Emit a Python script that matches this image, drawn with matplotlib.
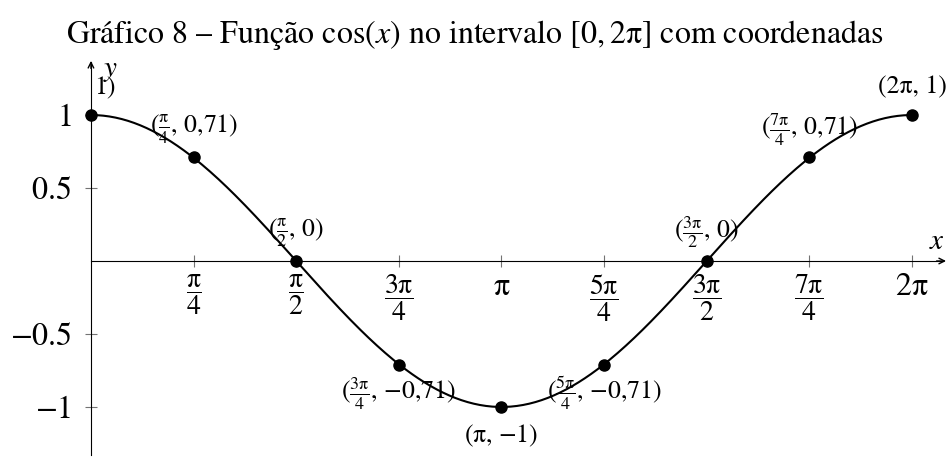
import numpy as np
import matplotlib.pyplot as plt

plt.rcParams['font.family'] = 'STIXGeneral'
plt.rcParams['mathtext.fontset'] = 'stix'

# pontos destacados de cos(x)
px = [0, np.pi / 4, np.pi / 2, 3 * np.pi / 4, np.pi, 5 * np.pi / 4, 3 * np.pi / 2, 7 * np.pi / 4, 2 * np.pi]
py = [1, 0.71, 0, -0.71, -1, -0.71, 0, 0.71, 1]
P = r'\mathrm{\pi}'
rotulos = ['1)', rf'($\frac{{{P}}}{{4}}$, 0,71)', rf'($\frac{{{P}}}{{2}}$, 0)',
           rf'($\frac{{3{P}}}{{4}}$, $-$0,71)', r'(π, $-$1)', rf'($\frac{{5{P}}}{{4}}$, $-$0,71)',
           rf'($\frac{{3{P}}}{{2}}$, 0)', rf'($\frac{{7{P}}}{{4}}$, 0,71)', r'(2π, 1)']

xticks = [np.pi / 4 * k for k in range(1, 9)]
xticklabels = [rf'$\dfrac{{{P}}}{{4}}$', rf'$\dfrac{{{P}}}{{2}}$', rf'$\dfrac{{3{P}}}{{4}}$', rf'${P}$',
               rf'$\dfrac{{5{P}}}{{4}}$', rf'$\dfrac{{3{P}}}{{2}}$', rf'$\dfrac{{7{P}}}{{4}}$', rf'$2{P}$']
yticks = [-1, -0.5, 0.5, 1]
yticklabels = [r'$-1$', r'$-0.5$', r'$0.5$', r'$1$']

fig = plt.figure(figsize=(9.5, 4.62), dpi=100)
ax = fig.add_axes([0, 0, 1, 1])
ax.set_xlim(-0.696, 6.574)
ax.set_ylim(-1.377, 1.788)

# eixos cruzando na origem
for s in ['top', 'right']:
    ax.spines[s].set_visible(False)
ax.spines['left'].set_position(('data', 0))
ax.spines['bottom'].set_position(('data', 0))
ax.spines['left'].set_bounds(-1.33, 1.36)
ax.spines['bottom'].set_bounds(0, 6.52)
ax.annotate('', xy=(6.565, 0), xytext=(6.45, 0),
            arrowprops=dict(arrowstyle='->', lw=1, color='black'))
ax.annotate('', xy=(0, 1.39), xytext=(0, 1.3),
            arrowprops=dict(arrowstyle='->', lw=1, color='black'))

ax.set_xticks(xticks)
ax.set_xticklabels(xticklabels, fontsize=20)
for lab in ax.get_xticklabels()[3::4]:
    lab.set_fontsize(23)
ax.set_yticks(yticks)
ax.set_yticklabels(yticklabels, fontsize=23)
ax.tick_params(direction='inout', length=8, width=0.8, color='0.45', pad=4)
ax.tick_params(axis='y', pad=10)

t = np.linspace(0, 2 * np.pi, 400)
ax.plot(t, np.cos(t), color='black', lw=1.5)
ax.plot(px, py, 'o', color='black', ms=8, zorder=5)

for x, y, r in zip(px, py, rotulos):
    if x == 0:
        ax.text(x + 0.11, y + 0.18, r, fontsize=18.5, ha='center', va='center')
    elif y < 0:
        ax.text(x, y - 0.2, r, fontsize=18.5, ha='center', va='center')
    else:
        ax.text(x, y + 0.19, r, fontsize=18.5, ha='center', va='center')

ax.text(6.47, 0.13, r'$x$', fontsize=21, ha='center', va='center')
ax.text(0.15, 1.3, r'$y$', fontsize=21, ha='center', va='center')

fig.text(0.5, 0.925, rf'Gráfico 8 – Função $\cos(x)$ no intervalo $[0,2{P}]$ com coordenadas',
         fontsize=23, ha='center', va='center')

fig.savefig('out.png', dpi=100)
